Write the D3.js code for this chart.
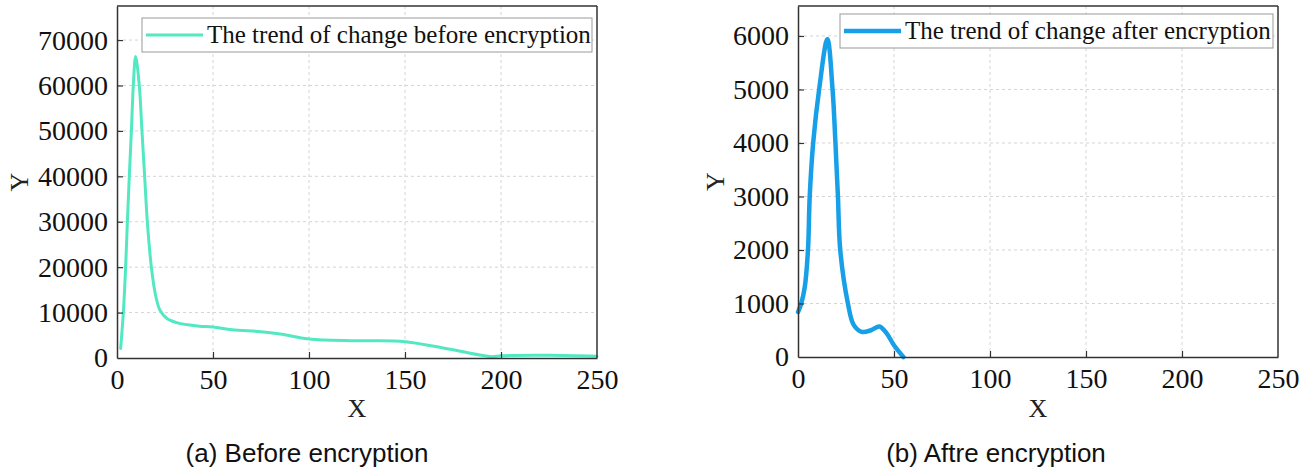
<!DOCTYPE html>
<html>
<head>
<meta charset="utf-8">
<script src="https://cdn.jsdelivr.net/npm/d3@7"></script>
<style>
  body { margin: 0; background: #fff; }
  svg { display: block; }
</style>
</head>
<body>
<div id="chart"></div>
<script>
// before encryption: [x, y]
const beforeX = [1.9, 3.3, 4.5, 5.4, 6.4, 7.5, 8.5, 9.7, 11.6, 13, 14.4, 15.8, 17.9, 20, 22.4, 26, 31, 37, 43, 50, 60, 75, 85, 100, 125, 150, 175, 195, 200, 225, 250];
const beforeY = [2100, 10000, 20000, 30000, 40000, 50000, 60000, 66400, 60000, 50000, 40000, 30000, 20000, 14000, 10500, 8700, 7800, 7300, 7000, 6800, 6200, 5800, 5300, 4200, 3800, 3600, 1800, 300, 500, 600, 400];

// after encryption
const afterX = [0, 1.7, 3.5, 5.2, 6.1, 7.9, 11, 15.3, 18, 19.5, 20.8, 22, 26, 29, 33.2, 38, 42.4, 46, 50, 54.9];
const afterY = [840, 1000, 1300, 2000, 3000, 4000, 5000, 5940, 5000, 4000, 3000, 2000, 1000, 600, 470, 500, 570, 450, 220, 0];

const xTicks = [0, 50, 100, 150, 200, 250];
const beforeTicks = [0, 10000, 20000, 30000, 40000, 50000, 60000, 70000];
const afterTicks = [0, 1000, 2000, 3000, 4000, 5000, 6000];

const W = 1305, H = 469;
const svg = d3.select('#chart').append('svg').attr('width', W).attr('height', H);

const serif = '"Liberation Serif", "Times New Roman", serif';

const panels = [
  { left: 117, right: 597, top: 6, bottom: 358, yMax: 77500, yTicks: beforeTicks,
    xs: beforeX, ys: beforeY, color: '#52e8c2', width: 3,
    legend: 'The trend of change before encryption', lx: 142, ly: 18, lw: 450, lh: 34,
    yLabelX: 20, caption: '(a) Before encryption', capX: 307 },
  { left: 798, right: 1278, top: 6, bottom: 357, yMax: 6560, yTicks: afterTicks,
    xs: afterX, ys: afterY, color: '#17a0e8', width: 4.5,
    legend: 'The trend of change after encryption', lx: 840, ly: 14, lw: 433, lh: 34,
    yLabelX: 716, caption: '(b) Aftre encryption', capX: 996 }
];

panels.forEach(p => {
  const g = svg.append('g');
  const x = d3.scaleLinear().domain([0, 250]).range([p.left, p.right]);
  const y = d3.scaleLinear().domain([0, p.yMax]).range([p.bottom, p.top]);

  // grid
  g.append('g').selectAll('line').data(xTicks.slice(1, -1)).join('line')
    .attr('x1', d => x(d)).attr('x2', d => x(d))
    .attr('y1', p.top).attr('y2', p.bottom)
    .attr('stroke', '#d4d4d4').attr('stroke-dasharray', '3,3');
  g.append('g').selectAll('line').data(p.yTicks.slice(1)).join('line')
    .attr('x1', p.left).attr('x2', p.right)
    .attr('y1', d => y(d)).attr('y2', d => y(d))
    .attr('stroke', '#d4d4d4').attr('stroke-dasharray', '3,3');

  // line
  const pts = p.xs.map((v, i) => [v, p.ys[i]]);
  g.append('path').datum(pts)
    .attr('fill', 'none').attr('stroke', p.color).attr('stroke-width', p.width)
    .attr('stroke-linejoin', 'round').attr('stroke-linecap', 'round')
    .attr('d', d3.line().x(d => x(d[0])).y(d => y(d[1])).curve(d3.curveCatmullRom.alpha(0.5)));

  // axes (ticks point inward)
  const xAxis = g.append('g').attr('transform', `translate(0,${p.bottom})`)
    .call(d3.axisBottom(x).tickValues(xTicks).tickSizeInner(-6).tickSizeOuter(0).tickPadding(11));
  const yAxis = g.append('g').attr('transform', `translate(${p.left},0)`)
    .call(d3.axisLeft(y).tickValues(p.yTicks).tickSizeInner(-6).tickSizeOuter(0).tickPadding(9).tickFormat(d3.format('d')));
  [xAxis, yAxis].forEach(a => {
    a.select('.domain').attr('stroke', '#333').attr('stroke-width', 1.5);
    a.selectAll('.tick line').attr('stroke', '#333').attr('stroke-width', 1.2);
    a.selectAll('.tick text').attr('font-family', serif)
      .attr('font-size', 28).attr('fill', '#111');
  });
  xAxis.selectAll('.tick text').attr('dy', '0.71em');
  yAxis.selectAll('.tick').filter(d => d === 0).select('line').remove();
  xAxis.selectAll('.tick').filter(d => d === 0 || d === 250).select('line').remove();

  // frame top/right
  g.append('line').attr('x1', p.left).attr('x2', p.right).attr('y1', p.top).attr('y2', p.top)
    .attr('stroke', '#333').attr('stroke-width', 1.5);
  g.append('line').attr('x1', p.right).attr('x2', p.right).attr('y1', p.top).attr('y2', p.bottom)
    .attr('stroke', '#333').attr('stroke-width', 1.5);

  // legend
  g.append('rect').attr('x', p.lx).attr('y', p.ly).attr('width', p.lw).attr('height', p.lh)
    .attr('fill', '#fff').attr('stroke', '#999').attr('stroke-width', 1);
  g.append('line').attr('x1', p.lx + 4).attr('x2', p.lx + 61)
    .attr('y1', p.ly + p.lh / 2).attr('y2', p.ly + p.lh / 2)
    .attr('stroke', p.color).attr('stroke-width', p.width);
  g.append('text').attr('x', p.lx + 65).attr('y', p.ly + p.lh / 2 + 8)
    .attr('font-family', serif)
    .attr('font-size', 25).attr('fill', '#111').text(p.legend);

  // axis titles
  g.append('text').attr('x', (p.left + p.right) / 2).attr('y', 417)
    .attr('text-anchor', 'middle')
    .attr('font-family', serif)
    .attr('font-size', 26).attr('fill', '#222').text('X');
  g.append('text').attr('transform', `translate(${p.yLabelX + 8},${(p.top + p.bottom) / 2}) rotate(-90)`)
    .attr('text-anchor', 'middle')
    .attr('font-family', serif)
    .attr('font-size', 26).attr('fill', '#222').text('Y');

  // caption
  g.append('text').attr('x', p.capX).attr('y', 462).attr('text-anchor', 'middle')
    .attr('font-family', '"Liberation Sans", Arial, sans-serif')
    .attr('font-size', 26).attr('fill', '#111').text(p.caption);
});
</script>
</body>
</html>
